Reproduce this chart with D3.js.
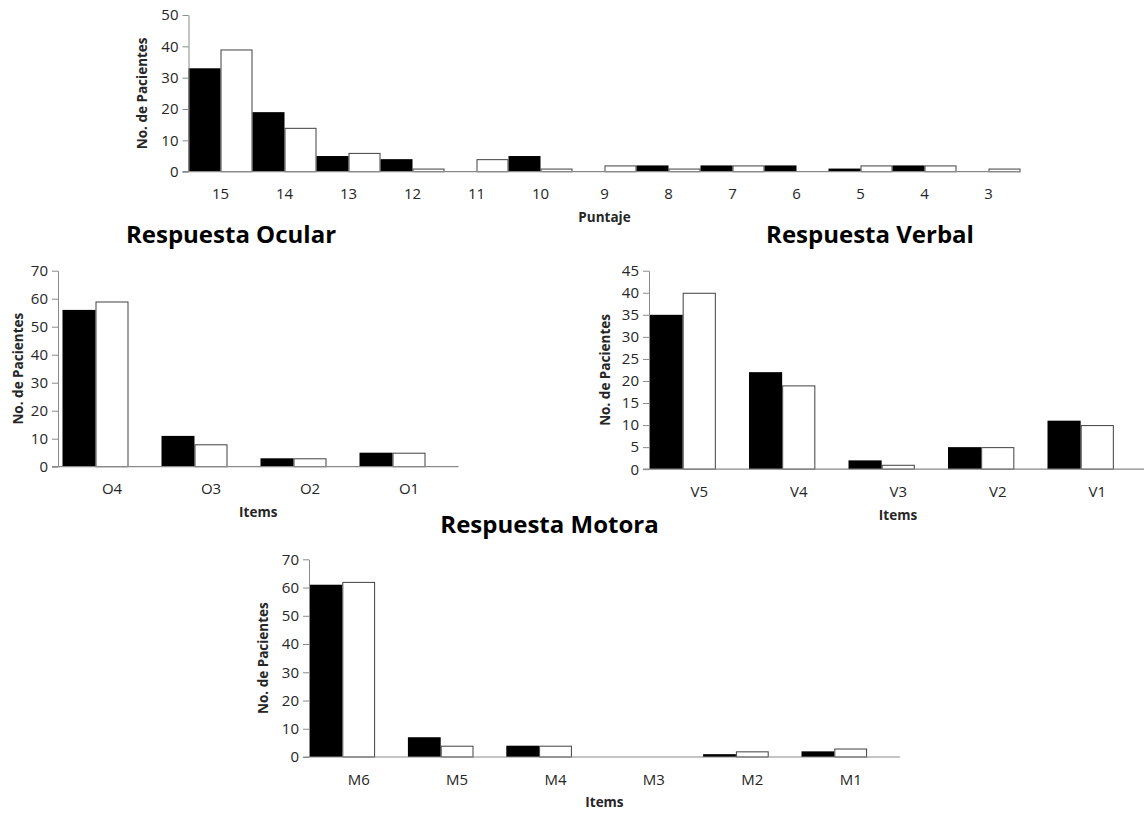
<!DOCTYPE html>
<html>
<head>
<meta charset="utf-8">
<script src="https://cdn.jsdelivr.net/npm/d3@7/dist/d3.min.js"></script>
<style>
  html, body { margin: 0; padding: 0; background: #ffffff; }
  svg { display: block; }
</style>
</head>
<body>
<svg id="chart" width="1144" height="814"></svg>
<script>
// ---------------- DATA ----------------
const puntajeCats = ["15","14","13","12","11","10","9","8","7","6","5","4","3"];
const puntajeBlack = [33, 19, 5, 4, 0, 5, 0, 2, 2, 2, 1, 2, 0];
const puntajeWhite = [39, 14, 6, 1, 4, 1, 2, 1, 2, 0, 2, 2, 1];
const puntajeTicks = [0, 10, 20, 30, 40, 50];

const ocularCats = ["O4","O3","O2","O1"];
const ocularBlack = [56, 11, 3, 5];
const ocularWhite = [59, 8, 3, 5];
const ocularTicks = [0, 10, 20, 30, 40, 50, 60, 70];

const verbalCats = ["V5","V4","V3","V2","V1"];
const verbalBlack = [35, 22, 2, 5, 11];
const verbalWhite = [40, 19, 1, 5, 10];
const verbalTicks = [0, 5, 10, 15, 20, 25, 30, 35, 40, 45];

const motoraCats = ["M6","M5","M4","M3","M2","M1"];
const motoraBlack = [61, 7, 4, 0, 1, 2];
const motoraWhite = [62, 4, 4, 0, 2, 3];
const motoraTicks = [0, 10, 20, 30, 40, 50, 60, 70];

const yTitle = "No. de Pacientes";

// ---------------- LAYOUT ----------------
const svg = d3.select("#chart");
const FONT = "'Open Sans', 'Liberation Sans', sans-serif";
const AXIS_COLOR = "#8a8a8a";
const TEXT_COLOR = "#262626";

const panels = [
  { cats: puntajeCats, black: puntajeBlack, white: puntajeWhite, ticks: puntajeTicks,
    slots: ["a","b"], axisX: 188.5, bandStart: 188.5, band: 64, y0: 171.7, yTop: 15,
    xTitle: "Puntaje", xTitleY: 222, yTitleX: 142,
    title: null },
  { cats: ocularCats, black: ocularBlack, white: ocularWhite, ticks: ocularTicks,
    slots: ["a","b","c"], axisX: 58, bandStart: 62.5, band: 99, y0: 466.7, yTop: 270.7,
    xTitle: "Items", xTitleY: 517, yTitleX: 18,
    title: "Respuesta Ocular", titleX: 231, titleY: 243 },
  { cats: verbalCats, black: verbalBlack, white: verbalWhite, ticks: verbalTicks,
    slots: ["a","b","c"], axisX: 649, bandStart: 649.5, band: 99.5, y0: 469.2, yTop: 270.7,
    xTitle: "Items", xTitleY: 520, yTitleX: 605,
    title: "Respuesta Verbal", titleX: 870, titleY: 243 },
  { cats: motoraCats, black: motoraBlack, white: motoraWhite, ticks: motoraTicks,
    slots: ["a","b","c"], axisX: 309, bandStart: 309.5, band: 98.4, y0: 757, yTop: 559.3,
    xTitle: "Items", xTitleY: 807, yTitleX: 263,
    title: "Respuesta Motora", titleX: 549.5, titleY: 533 }
];

function drawPanel(p) {
  const g = svg.append("g");
  const n = p.cats.length;
  const x = d3.scaleBand().domain(p.cats)
    .range([p.bandStart, p.bandStart + n * p.band]).paddingInner(0).paddingOuter(0);
  const xs = d3.scaleBand().domain(p.slots).range([0, x.bandwidth()]).padding(0);
  const yMax = p.ticks[p.ticks.length - 1];
  const y = d3.scaleLinear().domain([0, yMax]).range([p.y0, p.yTop]);

  const rows = p.cats.map((c, i) => ({ c, b: p.black[i], w: p.white[i] }));

  // black bars
  g.append("g").selectAll("rect").data(rows.filter(d => d.b > 0)).join("rect")
    .attr("x", d => x(d.c) + xs("a"))
    .attr("y", d => y(d.b))
    .attr("width", xs.bandwidth())
    .attr("height", d => y(0) - y(d.b))
    .attr("fill", "#000");

  // white bars
  g.append("g").selectAll("rect").data(rows.filter(d => d.w > 0)).join("rect")
    .attr("x", d => x(d.c) + xs("b") + 0.5)
    .attr("y", d => y(d.w) + 0.5)
    .attr("width", xs.bandwidth() - 1)
    .attr("height", d => y(0) - y(d.w) - 0.5)
    .attr("fill", "#fff")
    .attr("stroke", "#404040")
    .attr("stroke-width", 1);

  // y axis
  const ya = g.append("g").attr("transform", `translate(${p.axisX},0)`)
    .call(d3.axisLeft(y).tickValues(p.ticks).tickSize(6).tickSizeOuter(0).tickPadding(4));
  ya.select(".domain").attr("stroke", AXIS_COLOR);
  ya.selectAll(".tick line").attr("stroke", AXIS_COLOR);
  ya.selectAll(".tick text").attr("font-family", FONT).attr("font-size", 15)
    .attr("fill", TEXT_COLOR);

  // x axis
  const xa = g.append("g").attr("transform", `translate(0,${p.y0})`)
    .call(d3.axisBottom(x).tickSize(0).tickPadding(17));
  xa.select(".domain").remove();
  xa.selectAll(".tick text").attr("font-family", FONT).attr("font-size", 15)
    .attr("fill", TEXT_COLOR);
  g.append("line")
    .attr("x1", p.axisX - 6).attr("x2", x.range()[1])
    .attr("y1", p.y0).attr("y2", p.y0)
    .attr("stroke", AXIS_COLOR).attr("stroke-width", 1.2);

  // axis titles
  const xr = x.range();
  g.append("text")
    .attr("x", (p.axisX + xr[1]) / 2).attr("y", p.xTitleY)
    .attr("text-anchor", "middle")
    .attr("font-family", FONT).attr("font-size", 13.5).attr("font-weight", "bold")
    .attr("fill", TEXT_COLOR)
    .text(p.xTitle);

  g.append("text")
    .attr("transform", `translate(${p.yTitleX},${(p.y0 + p.yTop) / 2}) rotate(-90)`)
    .attr("text-anchor", "middle").attr("dominant-baseline", "central")
    .attr("font-family", FONT).attr("font-size", 13.5).attr("font-weight", "bold")
    .attr("fill", TEXT_COLOR)
    .text(yTitle);

  if (p.title) {
    g.append("text")
      .attr("x", p.titleX).attr("y", p.titleY)
      .attr("text-anchor", "middle")
      .attr("font-family", FONT).attr("font-size", 24).attr("font-weight", "bold")
      .attr("fill", "#000")
      .text(p.title);
  }
}

panels.forEach(drawPanel);
</script>
</body>
</html>
